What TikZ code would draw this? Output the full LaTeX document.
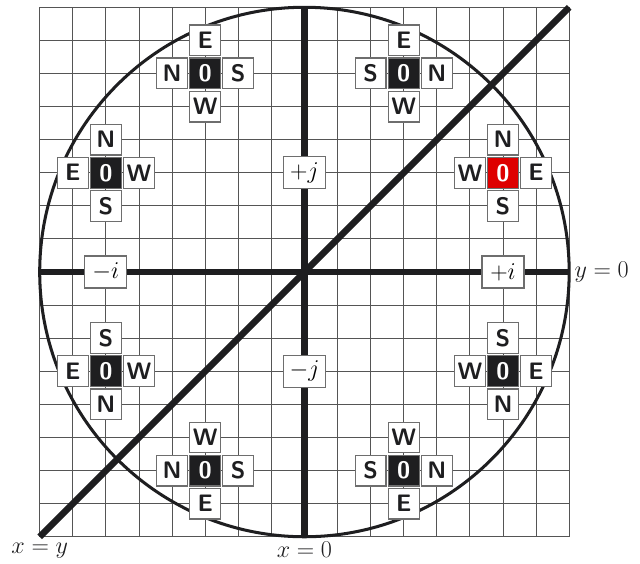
\documentclass[tikz,border=0pt]{standalone}
\definecolor{ink}{RGB}{30,30,32}
\definecolor{gridgray}{RGB}{85,85,85}
\definecolor{boxgray}{RGB}{110,110,110}
\definecolor{redfill}{RGB}{222,0,0}
\newcommand{\cmpss}[7]{%
  \node[#7] (#1c) at (#2) {0};
  \node[cbox] (#1t) at ([yshift=1cm]#1c.center) {#3};
  \node[cbox] (#1l) at ([xshift=-1cm]#1c.center) {#4};
  \node[cbox] (#1r) at ([xshift=1cm]#1c.center) {#5};
  \node[cbox] (#1b) at ([yshift=-1cm]#1c.center) {#6};
}
\begin{document}
\begin{tikzpicture}[x=1cm,y=1cm,
  gridline/.style={draw=gridgray, line width=0.8pt},
  axisline/.style={draw=ink, line width=5.6pt},
  ring/.style={draw=ink, line width=2.6pt},
  cbox/.style={draw=boxgray, line width=1pt, fill=white, minimum size=0.93cm, inner sep=0pt,
    font=\fontsize{20.5}{24}\selectfont\sffamily\bfseries, text=ink},
  zbox/.style={cbox, fill=ink, text=white},
  rbox/.style={cbox, fill=redfill, text=white},
  lbox/.style={draw=boxgray, line width=1pt, fill=white, minimum width=1.27cm,
    minimum height=0.97cm, inner sep=0pt, font=\fontsize{21}{25}\selectfont},
  lab/.style={font=\fontsize{21.5}{25}\selectfont, inner sep=1pt, text=ink}]
\useasboundingbox (-9.2,-8.82) rectangle (10.14,8.22);
\draw[gridline] (-8,-8) grid (8,8);
\coordinate (O) at (0,0);
\coordinate (L) at (-8,0);
\coordinate (R) at (8,0);
\coordinate (T) at (0,8);
\coordinate (B) at (0,-8);
\coordinate (BL) at (-8,-8);
\coordinate (TR) at (8,8);
\draw[ring] (O) circle (8);
\draw[axisline] (L) -- (R);
\draw[axisline] (B) -- (T);
\draw[axisline] (BL) -- (TR);
\node[lbox] (pj) at (0,3) {$+j$};
\node[lbox] (mj) at (0,-3) {$-j$};
\node[lbox] (mi) at (-6,0) {$-i$};
\node[lbox] (pi) at (6,0) {$+i$};
\node[lab, anchor=west] (ylab) at ([xshift=0.12cm]R) {$y=0$};
\node[lab, anchor=north] (xlab) at ([yshift=-0.12cm]B) {$x=0$};
\node[lab, anchor=north] (dlab) at ([yshift=-0.14cm]BL) {$x=y$};
\cmpss{a}{-3,6}{E}{N}{S}{W}{zbox}
\cmpss{b}{3,6}{E}{S}{N}{W}{zbox}
\cmpss{c}{-6,3}{N}{E}{W}{S}{zbox}
\cmpss{d}{6,3}{N}{W}{E}{S}{rbox}
\cmpss{e}{-6,-3}{S}{E}{W}{N}{zbox}
\cmpss{f}{6,-3}{S}{W}{E}{N}{zbox}
\cmpss{g}{-3,-6}{W}{N}{S}{E}{zbox}
\cmpss{h}{3,-6}{W}{S}{N}{E}{zbox}
\end{tikzpicture}
\end{document}
